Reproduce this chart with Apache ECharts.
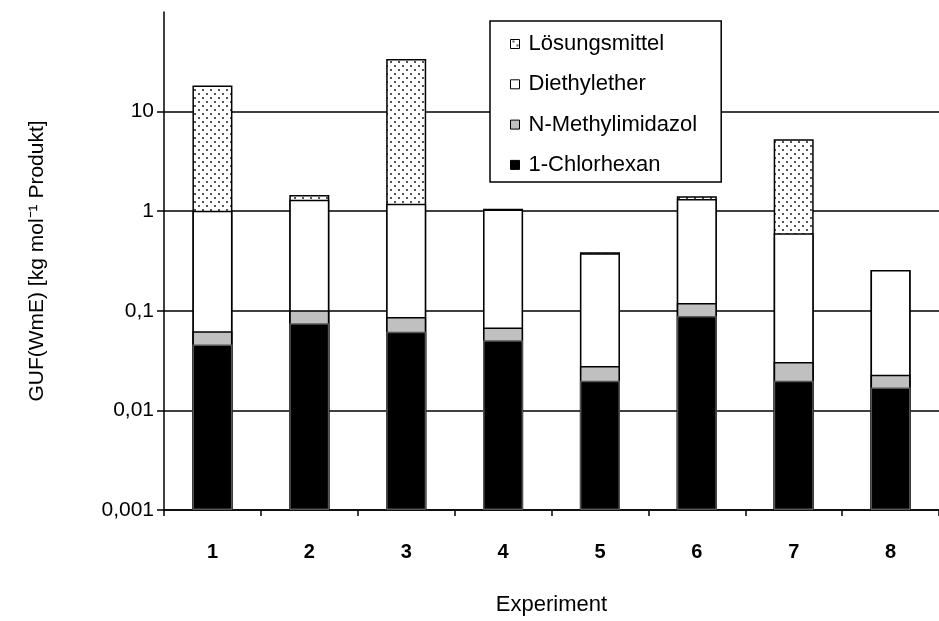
<!DOCTYPE html>
<html><head><meta charset="utf-8">
<script src="https://cdn.jsdelivr.net/npm/echarts@6/dist/echarts.min.js"></script>
<style>html,body{margin:0;padding:0;background:#fff}#c{width:939px;height:621px}</style>
</head><body><div id="c"></div>
<script>
const categories = ['1','2','3','4','5','6','7','8'];
const chlorhexan = [0.046, 0.075, 0.0615, 0.0505, 0.0198, 0.0885, 0.0198, 0.017];
const methylimidazol = [0.0165, 0.026, 0.025, 0.0175, 0.0081, 0.031, 0.0108, 0.0058];
const diethylether = [0.95, 1.2, 1.1, 0.97, 0.35, 1.21, 0.57, 0.234];
const loesungsmittel = [17.3, 0.156, 32.5, 0.02, 0.009, 0.08, 4.69, 0];
const yTickValues = [0.001, 0.01, 0.1, 1, 10];
const yTickLabels = ['0,001', '0,01', '0,1', '1', '10'];
const seriesNames = ['Lösungsmittel', 'Diethylether', 'N-Methylimidazol', '1-Chlorhexan'];

// cumulative tops (Excel-style stacking on a log axis)
const c1 = chlorhexan.slice();
const c2 = c1.map((v, i) => v + methylimidazol[i]);
const c3 = c2.map((v, i) => v + diethylether[i]);
const c4 = c3.map((v, i) => v + loesungsmittel[i]);

const pc = document.createElement('canvas');
pc.width = 8; pc.height = 8;
const pctx = pc.getContext('2d');
pctx.fillStyle = '#fff'; pctx.fillRect(0, 0, 8, 8);
pctx.fillStyle = '#555'; pctx.fillRect(2, 1, 2, 2); pctx.fillRect(6, 5, 2, 2);
const dotted = { image: pc, repeat: 'repeat' };

const FONT = 'Liberation Sans, Arial, sans-serif';
const chart = echarts.init(document.getElementById('c'), null, { renderer: 'canvas' });
const mkBar = (name, data, color, bc) => ({
  name, type: 'bar', data, barWidth: 40, barGap: '-100%',
  itemStyle: { color, borderColor: bc || '#000', borderWidth: 1.5 }
});
chart.setOption({
  animation: false,
  backgroundColor: '#fff',
  grid: { left: 164, top: 12, width: 786, bottom: 111, containLabel: false },
  legend: {
    data: seriesNames, orient: 'vertical', left: 490, top: 21,
    itemWidth: 9, itemHeight: 9, itemGap: 18.3, icon: 'rect',
    padding: [12, 24, 6, 20],
    backgroundColor: '#fff', borderColor: '#000', borderWidth: 1.5,
    itemStyle: { borderColor: '#000', borderWidth: 1 },
    textStyle: { fontSize: 22, color: '#000', fontFamily: FONT, lineHeight: 20, padding: [0, 0, 0, 4] }
  },
  xAxis: {
    type: 'category', data: categories,
    axisLine: { lineStyle: { color: '#000', width: 1.5 } },
    axisTick: { show: true, length: 6, lineStyle: { color: '#000', width: 1.5 } },
    axisLabel: { fontSize: 20, fontWeight: 'bold', color: '#000', margin: 32, fontFamily: FONT },
    name: 'Experiment', nameLocation: 'middle', nameGap: 84,
    nameTextStyle: { fontSize: 22, color: '#000', fontFamily: FONT }
  },
  yAxis: {
    type: 'log', logBase: 10, min: 0.001, max: 100, startValue: 0.001,
    axisLine: { show: true, lineStyle: { color: '#000', width: 1.5 } },
    axisTick: { show: true, length: 7, customValues: yTickValues, lineStyle: { color: '#000', width: 1.5 } },
    minorTick: { show: false },
    axisLabel: {
      fontSize: 21, color: '#000', margin: 10, fontFamily: FONT,
      customValues: yTickValues,
      formatter: (v) => yTickLabels[Math.round(Math.log10(v)) + 3] || ''
    },
    splitLine: { show: true, lineStyle: { color: ['#000', '#000', '#000', '#000', '#000', '#999'], width: 1.5 } },
    name: 'GUF(WmE) [kg mol⁻¹ Produkt]', nameLocation: 'middle', nameGap: 116,
    nameTextStyle: { fontSize: 21, color: '#000', fontFamily: FONT }
  },
  series: [
    mkBar(seriesNames[0], c4, dotted),
    mkBar(seriesNames[1], c3, '#ffffff'),
    mkBar(seriesNames[2], c2, '#c0c0c0'),
    mkBar(seriesNames[3], c1, '#000000', '#555')
  ]
});
</script></body></html>
